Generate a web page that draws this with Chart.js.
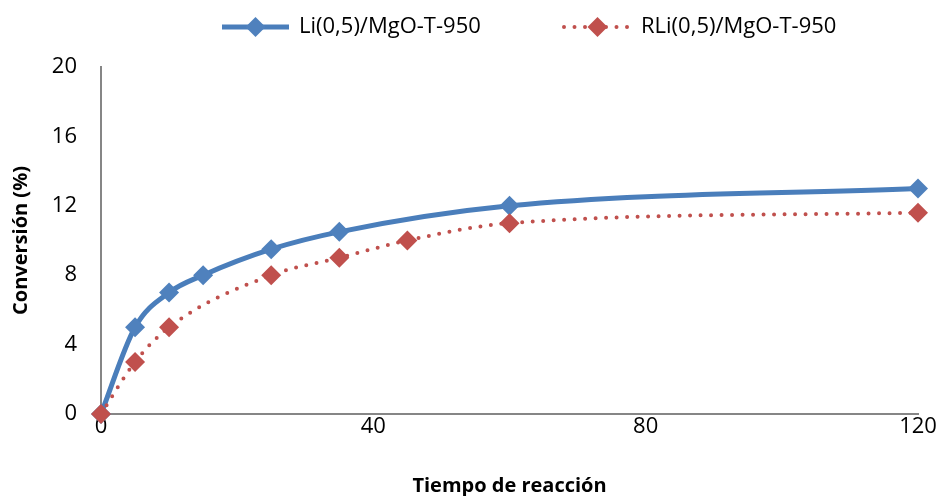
<!DOCTYPE html>
<html>
<head>
<meta charset="utf-8">
<script src="https://cdn.jsdelivr.net/npm/chart.js@4.4.1/dist/chart.umd.min.js"></script>
<style>
  html, body { margin: 0; padding: 0; background: #fff; }
  #wrap { width: 941px; height: 496px; }
</style>
</head>
<body>
<div id="wrap"><canvas id="conv"></canvas></div>
<script>
// reaction time (min) and conversion (%) for both catalysts
const timeLi = [0, 5, 10, 15, 25, 35, 60, 120];
const convLi = [0, 5, 7, 8, 9.5, 10.5, 12, 13];
const timeRLi = [0, 5, 10, 25, 35, 45, 60, 120];
const convRLi = [0, 3, 5, 8, 9, 10, 11, 11.6];
const seriesNames = ['Li(0,5)/MgO-T-950', 'RLi(0,5)/MgO-T-950'];
const xTicks = [0, 40, 80, 120];
const yTicks = [0, 4, 8, 12, 16, 20];

const BLUE = '#4a7ebb';
const BLUE_MARK = '#4f81bd';
const RED = '#c0504d';
const AXIS = '#868686';
const FONT = "'Open Sans', sans-serif";

const toPoints = (xs, ys) => xs.map((x, i) => ({ x: x, y: ys[i] }));

// legend with a line sample and a diamond marker, as in office charts
const lineLegend = {
    id: 'lineLegend',
    afterDraw(chart) {
        const ctx = chart.ctx;
        const y = 27;
        let x = 222;
        ctx.save();
        ctx.font = '22px ' + FONT;
        ctx.textBaseline = 'middle';
        chart.data.datasets.forEach((ds) => {
            ctx.beginPath();
            ctx.lineWidth = ds.borderWidth;
            ctx.strokeStyle = ds.borderColor;
            ctx.lineCap = ds.borderCapStyle || 'butt';
            ctx.setLineDash(ds.borderDash || []);
            ctx.moveTo(x, y);
            ctx.lineTo(x + 67, y);
            ctx.stroke();
            ctx.setLineDash([]);
            const cx = x + 33.5, r = ds.pointRadius;
            ctx.beginPath();
            ctx.moveTo(cx, y - r);
            ctx.lineTo(cx + r, y);
            ctx.lineTo(cx, y + r);
            ctx.lineTo(cx - r, y);
            ctx.closePath();
            ctx.fillStyle = ds.pointBackgroundColor;
            ctx.fill();
            ctx.fillStyle = '#000';
            ctx.fillText(ds.label, x + 77, y);
            x = 564;
        });
        ctx.restore();
    }
};

new Chart(document.getElementById('conv'), {
    type: 'line',
    data: {
        datasets: [
            {
                label: seriesNames[0],
                data: toPoints(timeLi, convLi),
                order: 1,
                clip: false,
                borderColor: BLUE,
                borderWidth: 5,
                pointStyle: 'rectRot',
                pointRadius: 10,
                pointBackgroundColor: BLUE_MARK,
                pointBorderWidth: 0,
                cubicInterpolationMode: 'monotone'
            },
            {
                label: seriesNames[1],
                data: toPoints(timeRLi, convRLi),
                order: 0,
                clip: false,
                borderColor: RED,
                borderWidth: 4,
                borderDash: [0, 10.5],
                borderCapStyle: 'round',
                pointStyle: 'rectRot',
                pointRadius: 10,
                pointBackgroundColor: RED,
                pointBorderWidth: 0,
                cubicInterpolationMode: 'monotone'
            }
        ]
    },
    options: {
        responsive: true,
        maintainAspectRatio: false,
        animation: false,
        layout: { padding: { top: 67, right: 23, left: 0, bottom: 0 } },
        plugins: {
            legend: { display: false },
            tooltip: { enabled: false }
        },
        scales: {
            x: {
                type: 'linear',
                min: 0,
                max: 120,
                afterBuildTicks: (scale) => { scale.ticks = xTicks.map(v => ({ value: v })); },
                afterFit: (scale) => { scale.height = 82; },
                grid: { display: false, drawTicks: false },
                border: { display: true, color: AXIS, width: 2 },
                ticks: { color: '#000', font: { family: FONT, size: 22 }, padding: 0, maxRotation: 0 },
                title: {
                    display: true,
                    text: 'Tiempo de reacción',
                    color: '#000',
                    font: { family: FONT, size: 20, weight: 'bold', lineHeight: 1 },
                    padding: { top: 0, bottom: 0 }
                }
            },
            y: {
                min: 0,
                max: 20,
                afterBuildTicks: (scale) => { scale.ticks = yTicks.map(v => ({ value: v })); },
                afterFit: (scale) => { scale.width = 101; },
                grid: { display: false, drawTicks: false },
                border: { display: true, color: AXIS, width: 2 },
                ticks: { color: '#000', font: { family: FONT, size: 22 }, padding: 24 },
                title: {
                    display: true,
                    text: 'Conversión (%)',
                    color: '#000',
                    font: { family: FONT, size: 20, weight: 'bold' },
                    padding: { top: 9, bottom: 0 }
                }
            }
        }
    },
    plugins: [lineLegend]
});
</script>
</body>
</html>
